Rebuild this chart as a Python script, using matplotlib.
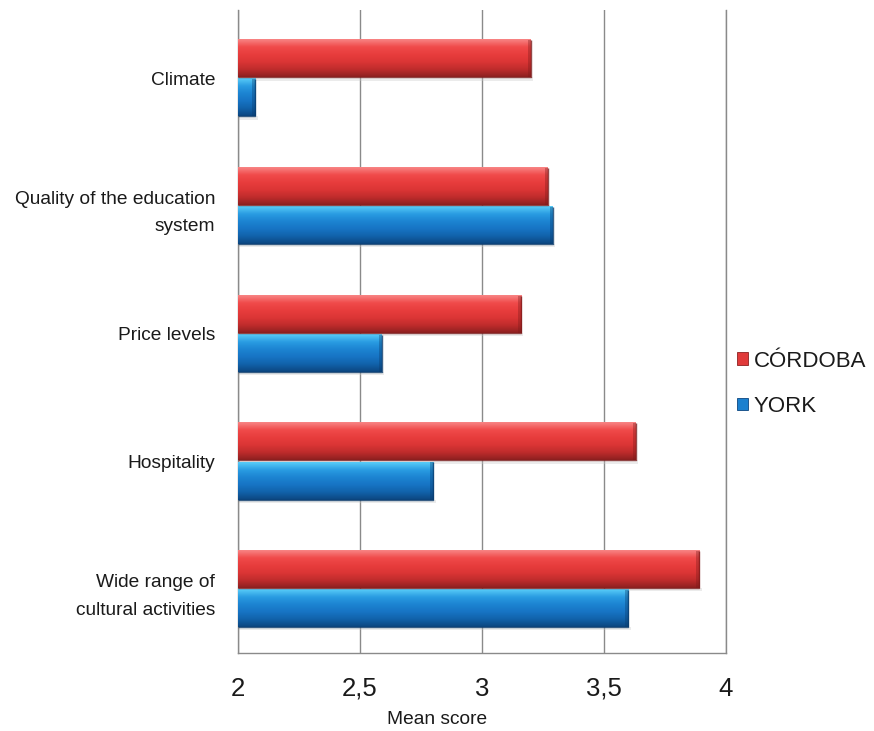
import numpy as np
import matplotlib
matplotlib.use("Agg")
import matplotlib.pyplot as plt
from matplotlib.colors import LinearSegmentedColormap
from matplotlib.patches import Patch

plt.rcParams['font.family'] = ['Liberation Sans', 'DejaVu Sans']

categories = ["Climate", "Quality of the education\nsystem", "Price levels",
              "Hospitality", "Wide range of\ncultural activities"]
cordoba = [3.20, 3.27, 3.16, 3.63, 3.89]
york = [2.07, 3.29, 2.59, 2.80, 3.60]
series_names = ["CÓRDOBA", "YORK"]
xticks = [2, 2.5, 3, 3.5, 4]
xticklabels = ["2", "2,5", "3", "3,5", "4"]

label_size = 13.8
text_color = "#1a1a1a"
grid_color = "#8a8a8a"

# vertical shading for the bevelled bars (top -> bottom)
red_cmap = LinearSegmentedColormap.from_list(
    "red_bevel", ["#f88484", "#f04a4a", "#e83d3d", "#db3535", "#bf2c2c", "#8e2020"])
blue_cmap = LinearSegmentedColormap.from_list(
    "blue_bevel", ["#58ccf8", "#2a9ce2", "#1c84d2", "#1774c4", "#1162aa", "#0c4680"])

fig = plt.figure(figsize=(8.74, 7.31), dpi=100)
ax = fig.add_axes([0.2723, 0.1067, 0.5584, 0.8796])

n = len(categories)
ypos = np.arange(n)[::-1].astype(float)  # first category at the top
bh = 0.29
x0 = 2.0

grad = np.linspace(0, 1, 64).reshape(-1, 1)


def bevel_bar(y_center, value, cmap, edge):
    bottom = y_center - bh / 2
    top = y_center + bh / 2
    ax.imshow(grad, cmap=cmap, aspect="auto", origin="upper",
              extent=[x0, value, bottom, top], zorder=3, interpolation="bicubic")
    # darker cap at the bar end
    cap = 0.012
    ax.fill_between([value - cap, value], bottom, top, color=edge, alpha=0.35,
                    zorder=4, linewidth=0)
    ax.plot([x0, value, value], [bottom, bottom, top], color=edge, lw=1.0,
            alpha=0.8, zorder=5, solid_capstyle="butt")
    # soft drop shadow
    ax.fill_between([x0, value + 0.01], bottom - 0.025, bottom, color="#c8c8c8",
                    alpha=0.35, zorder=2, linewidth=0)


for y, c, yk in zip(ypos, cordoba, york):
    bevel_bar(y + bh / 2 + 0.008, c, red_cmap, "#7a1a1a")
    bevel_bar(y - bh / 2 - 0.008, yk, blue_cmap, "#0a3a6a")

ax.set_xlim(2, 4)
ax.set_ylim(-0.5, n - 0.5 + 0.035)
ax.set_xticks(xticks)
ax.set_xticklabels(xticklabels, fontsize=18.5)
ax.set_yticks(ypos)
ax.set_yticklabels(categories, fontsize=label_size, ha="right", linespacing=1.8)
ax.tick_params(axis="x", length=0, pad=17, colors=text_color)
ax.tick_params(axis="y", length=0, pad=16.5, colors=text_color)
ax.grid(axis="x", color=grid_color, lw=1.0, zorder=1)
ax.set_axisbelow(True)

ax.spines["top"].set_visible(False)
for side in ["left", "bottom", "right"]:
    ax.spines[side].set_color(grid_color)
    ax.spines[side].set_linewidth(1.0)

ax.set_xlabel("Mean score", fontsize=label_size, color=text_color)
ax.xaxis.set_label_coords(0.408, -0.104)
ax.xaxis.label.set_va("center")

handles = [Patch(facecolor="#e03a3a", edgecolor="#8e2020", lw=0.6),
           Patch(facecolor="#1a80cf", edgecolor="#0c4680", lw=0.6)]
leg = fig.legend(handles, series_names, loc="center left",
                 bbox_to_anchor=(0.843, 0.475), frameon=False, fontsize=16,
                 handlelength=0.5, handleheight=0.5, handletextpad=0.25,
                 labelspacing=1.1, borderpad=0, borderaxespad=0)
for t in leg.get_texts():
    t.set_color(text_color)

fig.savefig("out.png", dpi=100, facecolor="white")
